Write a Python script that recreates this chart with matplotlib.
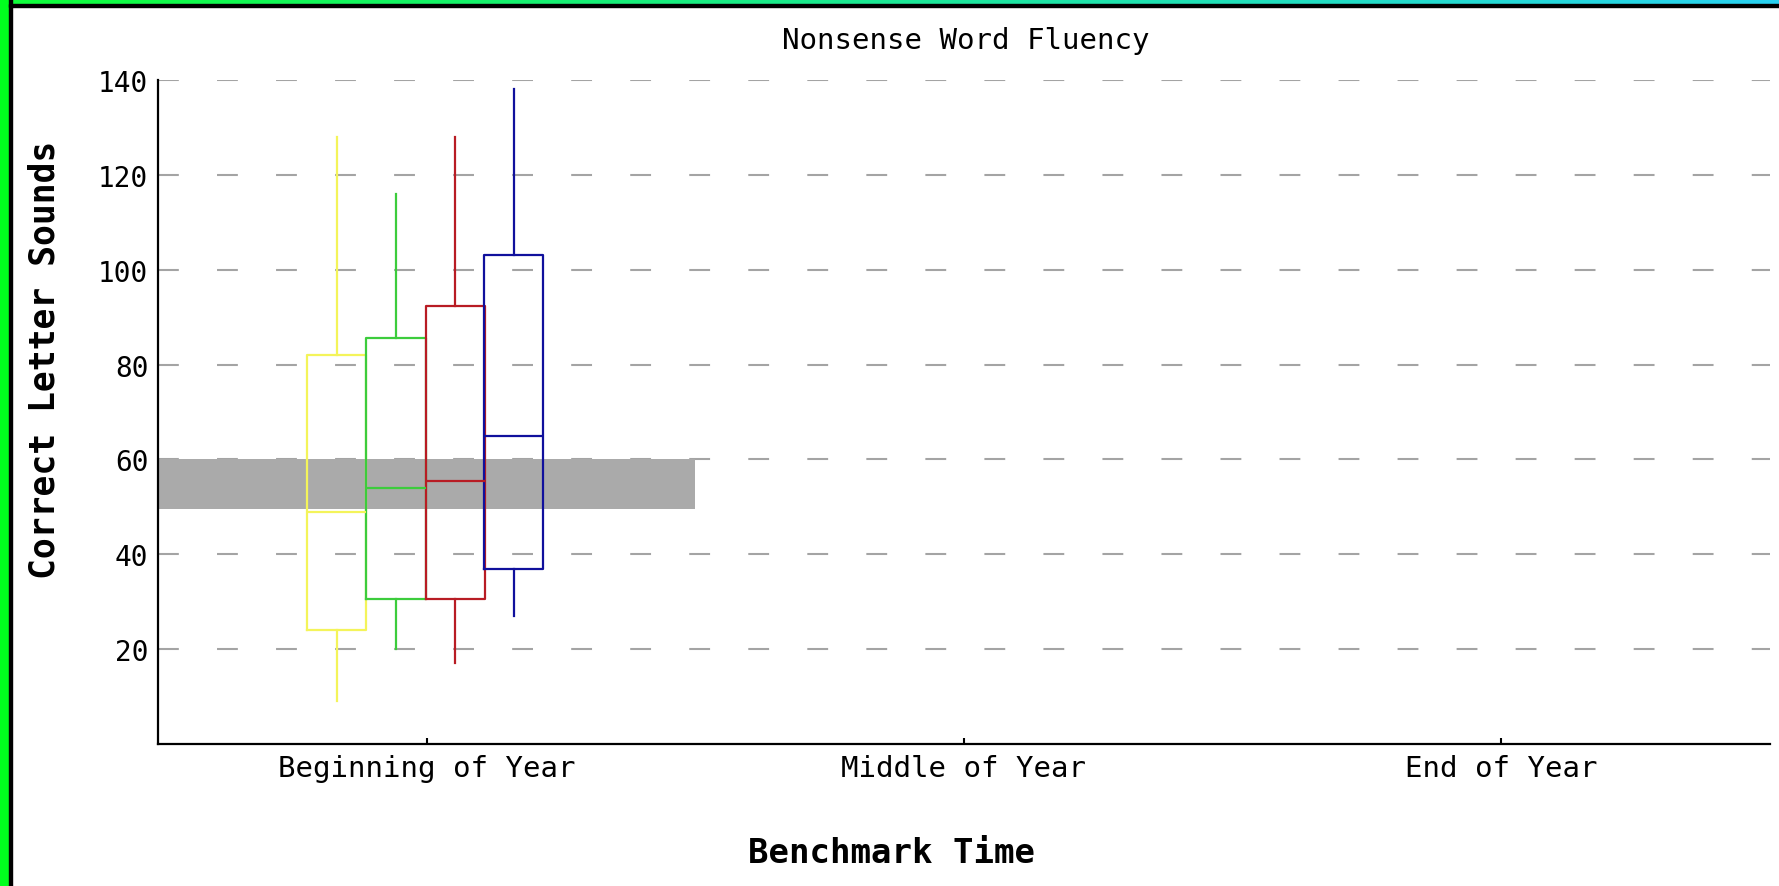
import matplotlib
matplotlib.use("Agg")
import matplotlib.pyplot as plt
from matplotlib.patches import Rectangle
import numpy as np

# chart data
categories = ["Beginning of Year", "Middle of Year", "End of Year"]
group_colors = ["#f4f45a", "#3ccc3c", "#b81c24", "#10109c"]
group_offsets = [-0.167, -0.057, 0.053, 0.162]
whisker_low = [9, 20, 17, 27]
q1 = [24, 30.6, 30.6, 37]
median = [49, 54, 55.5, 65]
q3 = [82, 85.5, 92.3, 103]
whisker_high = [128, 116, 128, 138]
benchmark_band = [49.5, 60]
band_span = [-0.5, 0.5]
yticks = [20, 40, 60, 80, 100, 120, 140]

plt.rcParams['lines.scale_dashes'] = False
mono = "DejaVu Sans Mono"

fig = plt.figure(figsize=[17.79, 8.87], dpi=100)
ax = fig.add_axes([158 / 1779, 1 - 745 / 887, (1770 - 158) / 1779, (745 - 81) / 887])

# horizontal dashed grid
for y in yticks:
    ax.plot([-0.5, 2.5], [y, y], color="#a4a4a4", linewidth=1.5,
            linestyle=(0, (15, 27.5)), zorder=1)

# benchmark band
ax.fill_between(band_span, benchmark_band[0], benchmark_band[1],
                color="#aaaaaa", linewidth=0, zorder=2)

# box plots
stats = []
for i in range(len(median)):
    stats.append({"med": median[i], "q1": q1[i], "q3": q3[i],
                  "whislo": whisker_low[i], "whishi": whisker_high[i]})
for i, st in enumerate(stats):
    c = group_colors[i]
    ax.bxp([st], positions=[group_offsets[i]], widths=0.11, showcaps=False,
           showfliers=False, manage_ticks=False,
           boxprops=dict(color=c, linewidth=1.6),
           whiskerprops=dict(color=c, linewidth=1.6),
           medianprops=dict(color=c, linewidth=1.6),
           zorder=3)

ax.set_xlim(-0.5, 2.5)
ax.set_ylim(0, 140)
ax.set_xticks(range(len(categories)))
ax.set_xticklabels(categories, fontfamily=mono, fontsize=21)
ax.set_yticks(yticks)
ax.set_yticklabels([str(v) for v in yticks], fontfamily=mono, fontsize=20)
ax.tick_params(axis="x", direction="in", length=4.5, width=1.5, pad=7)
ax.tick_params(axis="y", length=0, pad=7)
for s in ["top", "right"]:
    ax.spines[s].set_visible(False)
for s in ["left", "bottom"]:
    ax.spines[s].set_linewidth(1.6)

fig.text(966 / 1779, 1 - 41 / 887, "Nonsense Word Fluency", ha="center", va="center",
         fontfamily=mono, fontsize=21)
fig.text(891 / 1779, 1 - 854 / 887, "Benchmark Time", ha="center", va="center",
         fontfamily=mono, fontsize=24.5, fontweight="bold")
fig.text(45 / 1779, 1 - 360 / 887, "Correct Letter Sounds", ha="center", va="center",
         rotation=90, fontfamily=mono, fontsize=25, fontweight="bold")

# window frame: green left edge, gradient top edge, black inner lines
fig.patches.append(Rectangle((0, 0), 9 / 1779, 1, transform=fig.transFigure,
                             color="#00ff1e", zorder=5))
fig.patches.append(Rectangle((9 / 1779, 0), 3 / 1779, 1, transform=fig.transFigure,
                             color="black", zorder=5))
grad = np.linspace(0, 1, 256).reshape(1, -1)
top_ax = fig.add_axes([0, 1 - 5 / 887, 1, 5 / 887])
top_cmap = matplotlib.colors.LinearSegmentedColormap.from_list("g", ["#10ff3a", "#2ad2f2"])
top_ax.imshow(grad, aspect="auto", cmap=top_cmap)
top_ax.axis("off")
fig.patches.append(Rectangle((9 / 1779, 1 - 8 / 887), 1, 3 / 887, transform=fig.transFigure,
                             color="black", zorder=5))

fig.savefig("out.png", dpi=100)
